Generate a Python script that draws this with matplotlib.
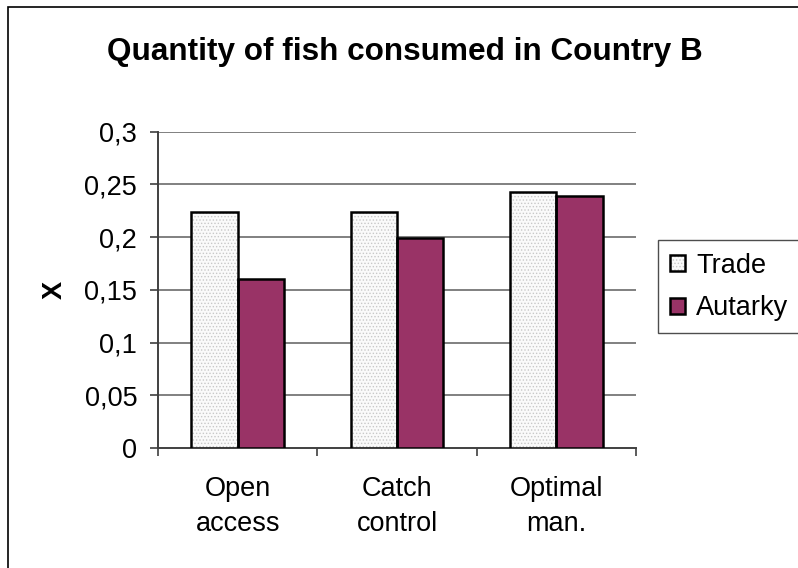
import numpy as np
import matplotlib.pyplot as plt
from matplotlib.patches import Rectangle
from matplotlib.legend_handler import HandlerTuple

categories = ["Open\naccess", "Catch\ncontrol", "Optimal\nman."]
trade = [0.224, 0.224, 0.243]
autarky = [0.160, 0.199, 0.239]

plt.rcParams['font.family'] = ['Liberation Sans', 'DejaVu Sans']
plt.rcParams['hatch.linewidth'] = 0.6

fig = plt.figure(figsize=(7.98, 5.68), dpi=100)
# outer chart frame (cut off on the right and bottom)
fig.patches.append(Rectangle((8/798, -0.1), 1.2, 1 - 7/568 + 0.1, transform=fig.transFigure,
                             fill=False, ec='black', lw=1.2))

ax = fig.add_axes([158/798, 1 - 448/568, 478/798, 316.3/568])
x = np.arange(len(categories))
w = 0.29
# dotted fill first (hatch takes the edge colour), then the black outline on top
b1 = ax.bar(x - w/2, trade, w, facecolor='#fafafa', hatch='.....', edgecolor='#c8c8c8', lw=0,
            zorder=3)
b1o = ax.bar(x - w/2, trade, w, fill=False, edgecolor='black', lw=1.8, zorder=4)
b2 = ax.bar(x + w/2, autarky, w, color='#993366', edgecolor='black', lw=1.8, zorder=3)

ax.set_xlim(-0.5, 2.5)
ax.set_ylim(0, 0.3)
yt = np.arange(0, 0.301, 0.05)
ax.set_yticks(yt)
ax.set_yticklabels(['0', '0,05', '0,1', '0,15', '0,2', '0,25', '0,3'], fontsize=19.5)
for v in yt[1:]:
    ax.axhline(v, color='#808080', lw=1.4, zorder=1)

ax.set_xticks([-0.5, 0.5, 1.5, 2.5])
ax.set_xticklabels([])
ax.set_xticks(x, minor=True)
ax.set_xticklabels(categories, minor=True, fontsize=19.5, linespacing=1.45)
ax.tick_params(axis='x', which='minor', length=0, pad=20)
ax.tick_params(axis='x', which='major', direction='out', length=6, width=1.2, color='#404040')
ax.tick_params(axis='y', direction='out', length=6, width=1.2, color='#404040', pad=9)

for s in ['top', 'right']:
    ax.spines[s].set_visible(False)
for s in ['left', 'bottom']:
    ax.spines[s].set_color('#404040')
    ax.spines[s].set_linewidth(1.4)

ax.set_ylabel('X', fontsize=19.5, fontweight='bold', labelpad=12)

fig.text(405/798, 1 - 60/568, 'Quantity of fish consumed in Country B', ha='center', va='baseline',
         fontsize=22.7, fontweight='bold')

leg = fig.legend([(b1[0], b1o[0]), b2[0]], ['Trade', 'Autarky'],
                 handler_map={tuple: HandlerTuple(ndivide=1, pad=0)},
                 loc='upper left', bbox_to_anchor=(658/798, 1 - 246/568, 0.3, 0.01), mode='expand',
                 fontsize=19.5, frameon=True, fancybox=False, edgecolor='#202020', borderpad=0.45,
                 handlelength=0.55, handleheight=0.55, handletextpad=0.4, labelspacing=0.62,
                 borderaxespad=0)
leg.get_frame().set_linewidth(1.0)

fig.savefig('out.png', dpi=100)
